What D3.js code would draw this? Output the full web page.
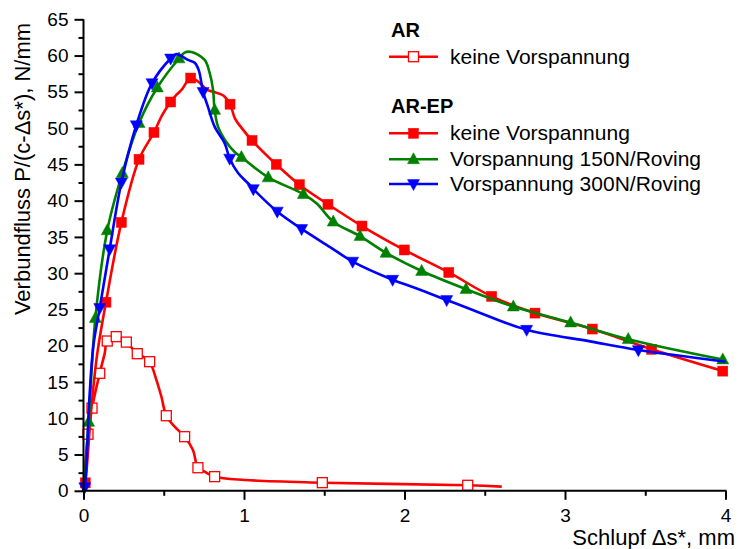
<!DOCTYPE html>
<html>
<head>
<meta charset="utf-8">
<script src="https://cdn.jsdelivr.net/npm/d3@7"></script>
<style>
  html, body { margin: 0; padding: 0; background: #fff; }
  svg { display: block; font-family: "Liberation Sans", Arial, sans-serif; }
</style>
</head>
<body>
<svg id="chart" width="738" height="549"></svg>
<script>
// Bond flow vs. slip. Each point: [slip mm, bond flow N/mm, marker (1) or plain line vertex (0)]
const arNone = [
  [0.005, 1.0, 0], [0.028, 7.8, 1], [0.053, 11.4, 1], [0.101, 16.2, 1], [0.132, 18.95, 0],
  [0.148, 20.65, 1], [0.204, 21.25, 1], [0.267, 20.5, 1], [0.335, 18.9, 1], [0.371, 18.5, 0],
  [0.412, 17.8, 1], [0.454, 15.3, 0], [0.485, 13.0, 0], [0.516, 10.35, 1], [0.568, 8.84, 0],
  [0.630, 7.46, 1], [0.682, 5.62, 0], [0.713, 3.18, 1], [0.755, 2.63, 0], [0.817, 1.95, 1],
  [1.004, 1.49, 0], [1.488, 1.12, 1], [2.394, 0.76, 1], [2.606, 0.57, 0]
];
const arepNone = [
  [0.0, 0.0, 0], [0.011, 1.1, 1], [0.05, 11.6, 0], [0.085, 18.8, 0], [0.140, 26.0, 1],
  [0.236, 37.0, 1], [0.346, 45.7, 1], [0.439, 49.4, 1], [0.49, 51.8, 0], [0.543, 53.6, 1],
  [0.580, 54.6, 0], [0.612, 55.3, 0], [0.668, 56.9, 1], [0.726, 56.2, 0], [0.768, 55.3, 0],
  [0.809, 55.0, 0], [0.871, 54.5, 0], [0.913, 53.3, 1], [0.944, 51.3, 0], [0.986, 50.0, 0],
  [1.050, 48.3, 1], [1.201, 45.0, 1], [1.345, 42.2, 1], [1.523, 39.5, 1], [1.735, 36.5, 1],
  [1.999, 33.2, 1], [2.276, 30.1, 1], [2.543, 26.8, 1], [2.813, 24.5, 1], [3.170, 22.3, 1],
  [3.540, 19.5, 1], [3.983, 16.5, 1]
];
const arep150 = [
  [0.0, 0.0, 0], [0.032, 9.5, 1], [0.074, 23.8, 1], [0.148, 35.9, 1], [0.242, 43.8, 1],
  [0.346, 50.7, 1], [0.460, 55.6, 1], [0.595, 59.6, 1], [0.630, 60.4, 0], [0.672, 60.5, 0],
  [0.755, 59.4, 0], [0.786, 57.6, 0], [0.807, 55.3, 0], [0.817, 52.5, 1], [0.838, 50.2, 0],
  [0.880, 48.4, 0], [0.942, 46.7, 0], [0.984, 46.0, 1], [1.151, 43.2, 1], [1.370, 40.9, 1],
  [1.453, 39.6, 0], [1.556, 37.1, 1], [1.723, 35.1, 1], [1.885, 32.8, 1], [2.107, 30.3, 1],
  [2.383, 27.8, 1], [2.678, 25.4, 1], [3.035, 23.2, 1], [3.394, 20.9, 1], [3.983, 18.1, 1]
];
const arep300 = [
  [0.0, 0.0, 0], [0.008, 0.5, 1], [0.036, 12.5, 0], [0.061, 19.9, 0], [0.101, 25.2, 1],
  [0.163, 33.3, 1], [0.236, 42.5, 1], [0.329, 50.4, 1], [0.427, 56.2, 1], [0.543, 59.6, 1],
  [0.578, 60.2, 0], [0.651, 59.4, 0], [0.693, 59.0, 0], [0.718, 58.0, 0], [0.745, 55.0, 1],
  [0.776, 52.9, 0], [0.817, 50.2, 0], [0.880, 47.9, 0], [0.911, 45.8, 1], [0.963, 43.8, 0],
  [1.025, 42.4, 0], [1.058, 41.6, 1], [1.207, 38.5, 1], [1.359, 36.1, 1], [1.536, 33.6, 0],
  [1.677, 31.6, 1], [1.926, 29.1, 1], [2.076, 27.9, 0], [2.263, 26.3, 1], [2.429, 24.9, 0],
  [2.761, 22.2, 1], [3.156, 20.6, 0], [3.457, 19.4, 1], [4.0, 17.8, 0]
];

const xTicks = [0, 1, 2, 3, 4];
const yTicks = [0, 5, 10, 15, 20, 25, 30, 35, 40, 45, 50, 55, 60, 65];
const xTitle = "Schlupf \u0394s*, mm";
const yTitle = "Verbundfluss P/(c-\u0394s*), N/mm";
const legendGroups = ["AR", "AR-EP"];
const legendLabels = ["keine Vorspannung", "keine Vorspannung", "Vorspannung 150N/Roving", "Vorspannung 300N/Roving"];

const series = [
  { data: arNone,   color: "#ff0000", symbol: "squareOpen" },
  { data: arepNone, color: "#ff0000", symbol: "square" },
  { data: arep150,  color: "#008000", symbol: "triUp" },
  { data: arep300,  color: "#0000ff", symbol: "triDown" }
];

const svg = d3.select("#chart");
const mLeft = 83.5, mRight = 725.5, mTop = 19.3, mBottom = 490.8;

const x = d3.scaleLinear().domain([0, 4]).range([mLeft, mRight]);
const y = d3.scaleLinear().domain([0, 65]).range([mBottom, mTop]);

// marker painter
function drawMarker(g, sym, color, cx, cy) {
  if (sym === "square" || sym === "squareOpen") {
    const s = 10;
    g.append("rect").attr("x", cx - s / 2).attr("y", cy - s / 2).attr("width", s).attr("height", s)
      .attr("fill", sym === "square" ? color : "#fff")
      .attr("stroke", color).attr("stroke-width", sym === "square" ? 0.5 : 1.3);
  } else {
    const w = 12, h = 11;
    const dir = sym === "triUp" ? -1 : 1;
    const pts = [[cx, cy + dir * h * 0.6], [cx - w / 2, cy - dir * h * 0.4], [cx + w / 2, cy - dir * h * 0.4]];
    g.append("path").attr("d", "M" + pts.map(p => p.join(",")).join("L") + "Z")
      .attr("fill", color).attr("stroke", color).attr("stroke-width", 0.5);
  }
}

// curves
const line = d3.line()
  .x(d => x(d[0])).y(d => y(d[1]))
  .curve(d3.curveCatmullRom.alpha(0.5));

const plot = svg.append("g");
series.forEach(s => {
  plot.append("path").datum(s.data).attr("d", line)
    .attr("fill", "none").attr("stroke", s.color).attr("stroke-width", 2.6)
    .attr("stroke-linejoin", "round");
  const mg = plot.append("g");
  s.data.filter(d => d[2] === 1).forEach(d => drawMarker(mg, s.symbol, s.color, x(d[0]), y(d[1])));
});

// axes
const fontTick = "19px";
const xAxis = d3.axisBottom(x).tickValues(xTicks).tickFormat(d3.format("d")).tickSize(9).tickPadding(9);
const gx = svg.append("g").attr("transform", `translate(0,${mBottom})`).call(xAxis);
const xMinor = d3.axisBottom(x).tickValues([0.5, 1.5, 2.5, 3.5]).tickFormat("").tickSize(5);
svg.append("g").attr("transform", `translate(0,${mBottom})`).call(xMinor).select(".domain").remove();

const yAxis = d3.axisLeft(y).tickValues(yTicks).tickFormat(d3.format("d")).tickSize(9).tickPadding(6);
const gy = svg.append("g").attr("transform", `translate(${mLeft},0)`).call(yAxis);
const yMinor = d3.axisLeft(y).tickValues(d3.range(2.5, 65, 5)).tickFormat("").tickSize(5);
svg.append("g").attr("transform", `translate(${mLeft},0)`).call(yMinor).select(".domain").remove();

svg.selectAll(".domain").attr("stroke", "#000").attr("stroke-width", 2);
svg.selectAll(".tick line").attr("stroke", "#000").attr("stroke-width", 2);
svg.selectAll(".tick text").attr("fill", "#000").style("font-size", fontTick)
  .style("font-family", "'Liberation Sans', Arial, sans-serif");
gy.selectAll(".domain").attr("d", `M0,${mBottom + 1}V${mTop}`);
gx.selectAll(".domain").attr("d", `M${mLeft - 1},0H${mRight + 1}`);

// axis titles
svg.append("text").attr("x", 735).attr("y", 545).attr("text-anchor", "end")
  .style("font-size", "22px").attr("fill", "#000").text(xTitle);
svg.append("text").attr("transform", "translate(30,169) rotate(-90)").attr("text-anchor", "middle")
  .style("font-size", "22px").attr("fill", "#000").text(yTitle);

// legend
const lg = svg.append("g");
const lx0 = 389, lx1 = 438, lmx = 413.5, tx = 450;
lg.append("text").attr("x", 391).attr("y", 37).style("font-size", "20px").style("font-weight", "bold").text(legendGroups[0]);
lg.append("text").attr("x", 391).attr("y", 113).style("font-size", "20px").style("font-weight", "bold").text(legendGroups[1]);
const rows = [56.7, 133.3, 159.3, 184];
series.forEach((s, i) => {
  const ry = rows[i];
  lg.append("line").attr("x1", lx0).attr("x2", lx1).attr("y1", ry).attr("y2", ry)
    .attr("stroke", s.color).attr("stroke-width", 2.6);
  drawMarker(lg, s.symbol, s.color, lmx, ry);
  lg.append("text").attr("x", tx).attr("y", ry + 7).style("font-size", "21px").attr("fill", "#000").text(legendLabels[i]);
});
</script>
</body>
</html>
